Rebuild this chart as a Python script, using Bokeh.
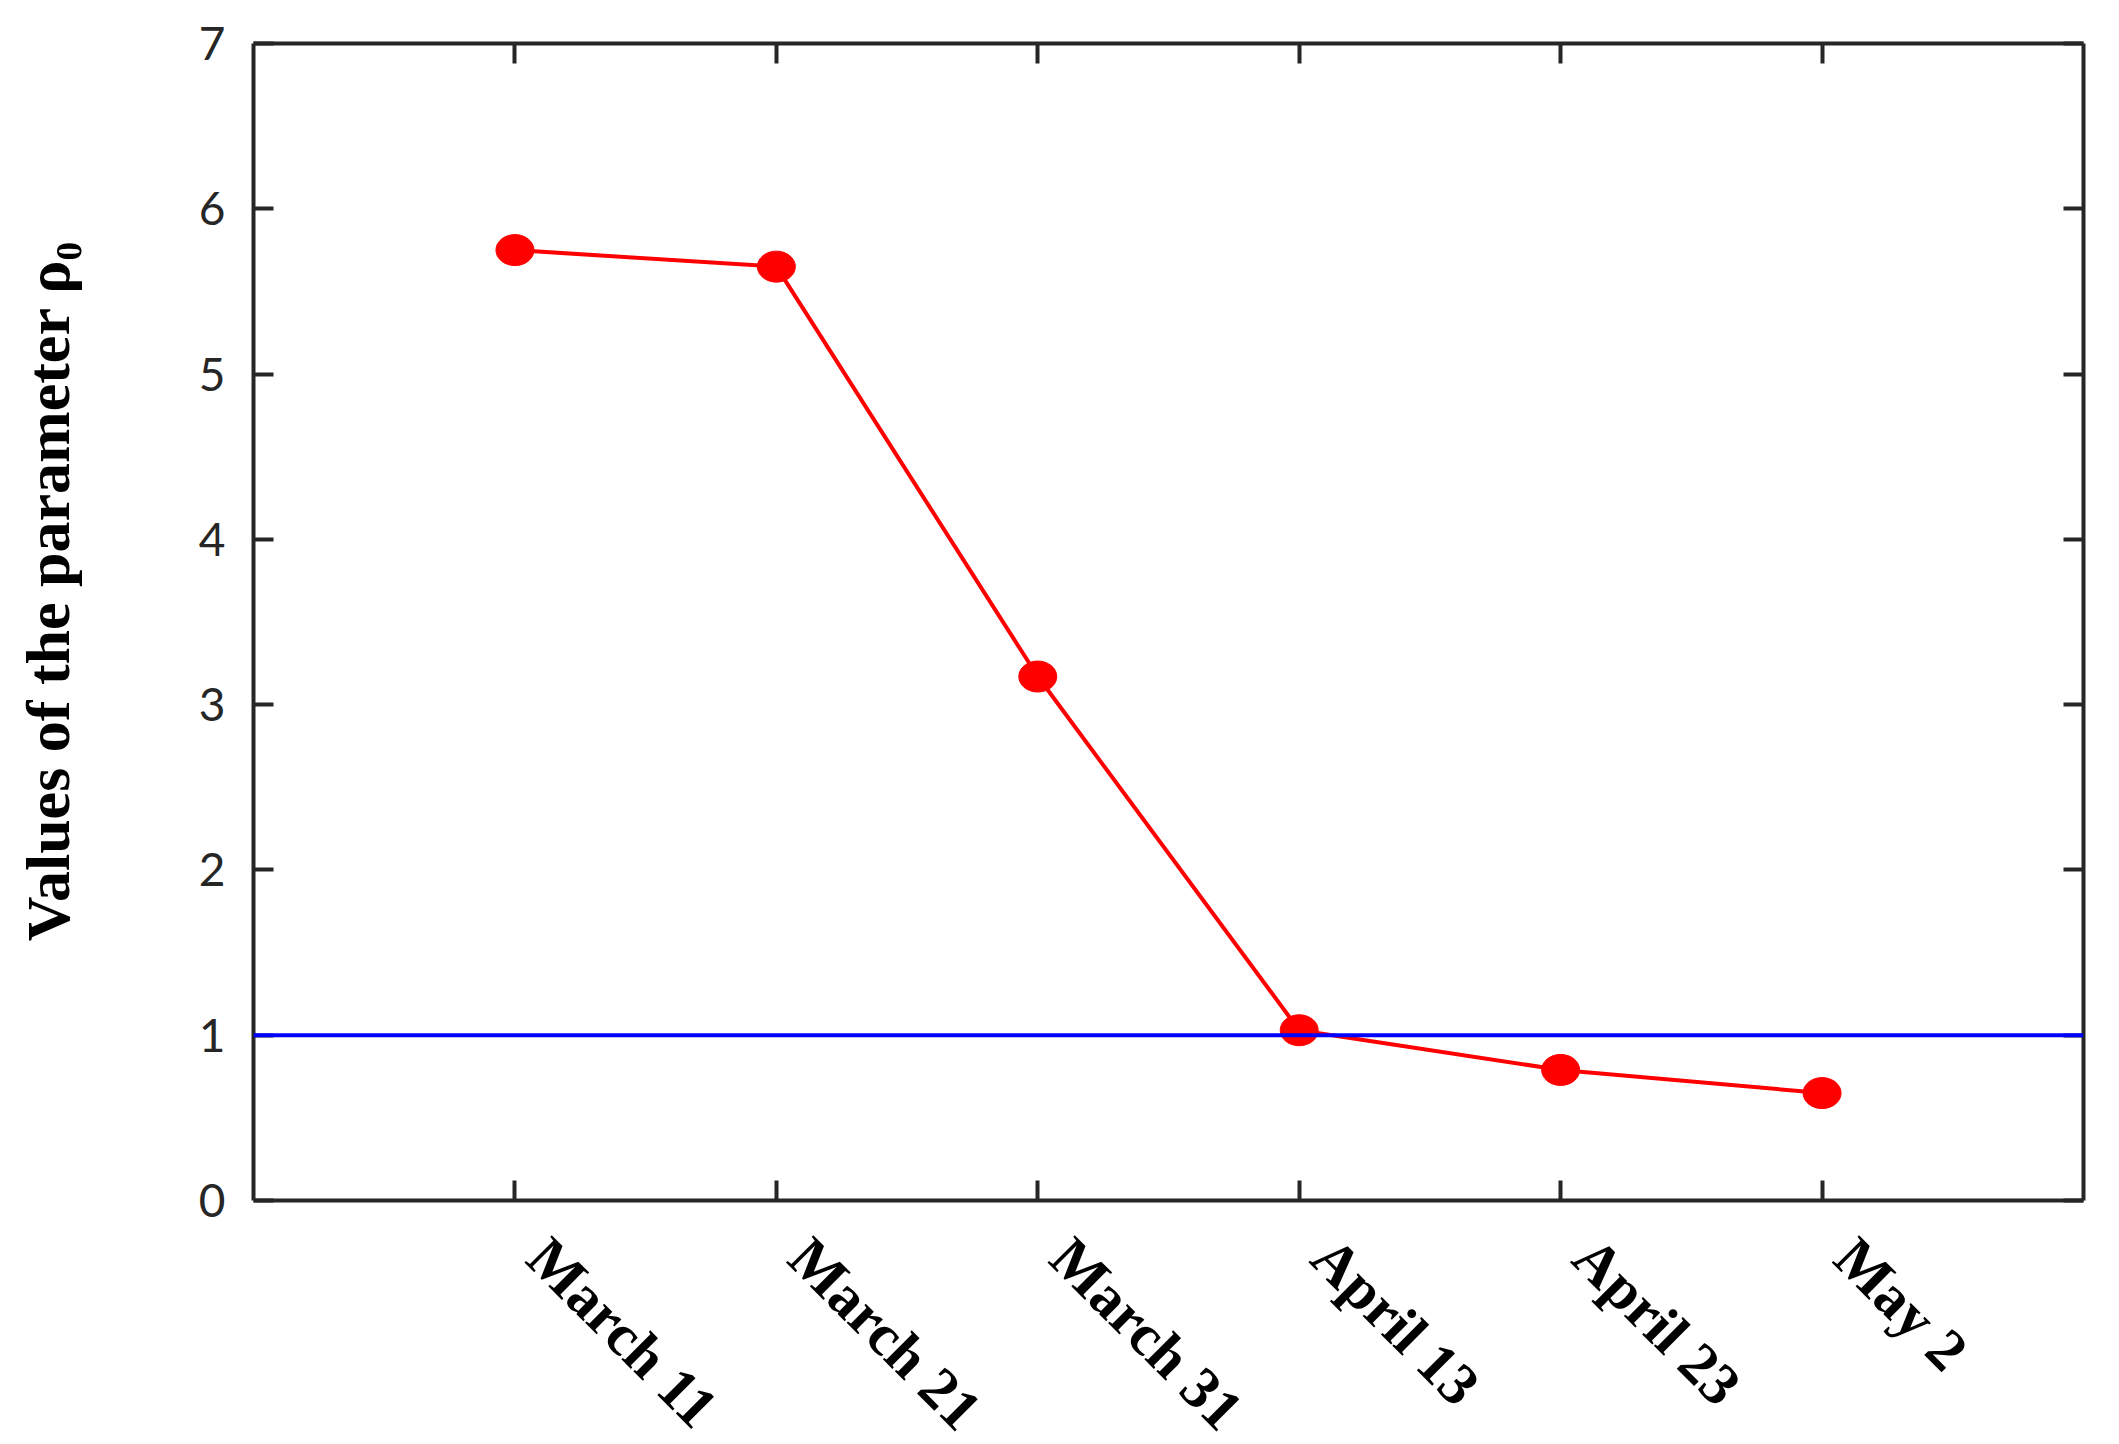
import math
from bokeh.plotting import figure
from bokeh.models import (FixedTicker, LinearAxis, Span, Range1d,
                          CustomLabelingPolicy, CustomJSTickFormatter)
from bokeh.embed import file_html
from bokeh.resources import INLINE

dates = ["March 11", "March 21", "March 31", "April 13", "April 23", "May 2"]
rho0 = [5.75, 5.65, 3.17, 1.03, 0.79, 0.65]
threshold = 1.0
y_ticks = [0, 1, 2, 3, 4, 5, 6, 7]
y_title = "Values of the parameter ρ₀"

xpos = list(range(1, len(dates) + 1))
X0, X1 = 0, len(dates) + 1
Y0, Y1 = y_ticks[0], y_ticks[-1]

FRAME_W, FRAME_H = 1830, 1157
AX = "#262626"
p = figure(frame_width=FRAME_W, frame_height=FRAME_H,
           x_range=Range1d(X0, X1), y_range=Range1d(Y0, Y1),
           x_axis_location=None, y_axis_location=None,
           output_backend="svg", toolbar_location=None,
           min_border_left=253, min_border_top=43, min_border_right=30,
           min_border_bottom=236)
p.background_fill_color = "white"
p.border_fill_color = "white"
p.outline_line_color = None
p.grid.visible = False

no_labels = CustomLabelingPolicy(code="for (const i of indices) indices.unset(i)")
xt = FixedTicker(ticks=xpos)
yt = FixedTicker(ticks=y_ticks)


def frame_axis(ticker, labels=True):
    ax = LinearAxis(ticker=ticker)
    ax.axis_line_width = 4
    ax.axis_line_color = AX
    ax.major_tick_in = 20
    ax.major_tick_out = 0
    ax.major_tick_line_width = 4
    ax.major_tick_line_color = AX
    ax.minor_tick_line_color = None
    if not labels:
        ax.major_label_policy = no_labels
        ax.major_label_standoff = 0
    return ax


bottom = frame_axis(xt, labels=False)
top = frame_axis(xt, labels=False)
right = frame_axis(yt, labels=False)
left = frame_axis(yt)
left.major_label_text_font = "Lato"
left.major_label_text_font_size = "46px"
left.major_label_text_color = AX
left.major_label_standoff = 28

p.add_layout(bottom, "below")
p.add_layout(top, "above")
p.add_layout(right, "right")
p.add_layout(left, "left")

# date labels: second bottom axis, labels nudged along the text direction
px_per_unit = FRAME_W / (X1 - X0)
shift = 23 / px_per_unit
date_axis = LinearAxis(ticker=FixedTicker(ticks=[x + shift for x in xpos]),
                       formatter=CustomJSTickFormatter(args=dict(labels=dates),
                                                       code="return labels[index]"))
date_axis.axis_line_color = None
date_axis.major_tick_line_color = None
date_axis.minor_tick_line_color = None
date_axis.major_tick_out = 0
date_axis.major_tick_in = 0
date_axis.major_label_orientation = -math.pi / 4
date_axis.major_label_standoff = 36
date_axis.major_label_text_font = "Liberation Serif"
date_axis.major_label_text_font_style = "bold"
date_axis.major_label_text_font_size = "59px"
date_axis.major_label_text_color = "black"
p.add_layout(date_axis, "below")

# y title on a second, otherwise empty left axis; leading no-break spaces
# lift the visible text slightly above the frame's middle
title_axis = LinearAxis(ticker=FixedTicker(ticks=[]))
title_axis.axis_line_color = None
title_axis.major_tick_line_color = None
title_axis.minor_tick_line_color = None
title_axis.axis_label = "\u00a0" * 4 + y_title
title_axis.axis_label_text_font = "Liberation Serif"
title_axis.axis_label_text_font_style = "bold"
title_axis.axis_label_text_font_size = "62px"
title_axis.axis_label_text_color = "black"
title_axis.axis_label_standoff = 114
p.add_layout(title_axis, "left")

p.add_layout(Span(location=threshold, dimension="width",
                  line_color="#0000FF", line_width=4))
p.line(xpos, rho0, line_color="#FF0000", line_width=4)
p.ellipse(xpos, rho0, width=38, height=31, width_units="screen",
          height_units="screen", fill_color="#FF0000", line_color="#FF0000")

open("out.html", "w").write(file_html(p, INLINE))
